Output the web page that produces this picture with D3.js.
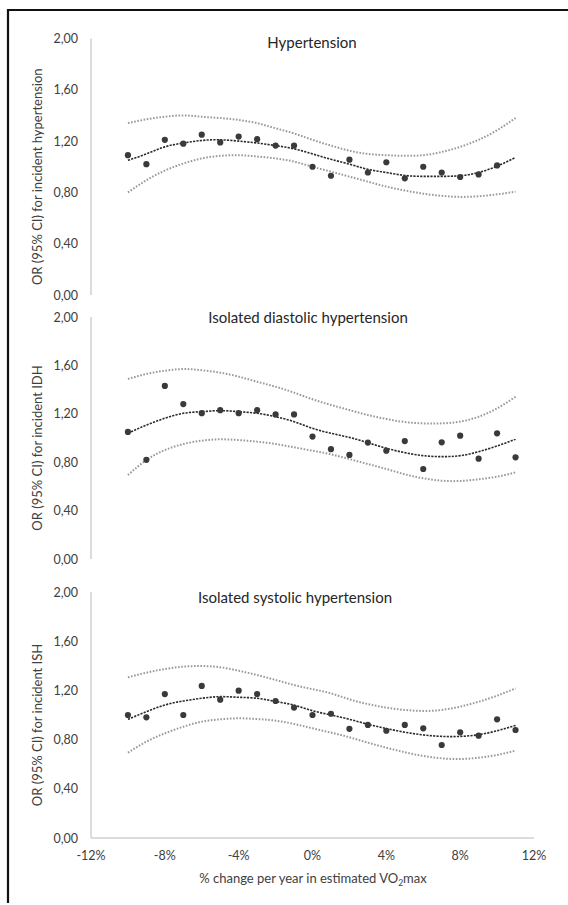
<!DOCTYPE html>
<html lang="en">
<head>
<meta charset="UTF-8">
<title>OR by change in VO2max</title>
<script src="https://cdnjs.cloudflare.com/ajax/libs/d3/7.8.5/d3.min.js"></script>
<style>
    body { margin: 0; background: #fff; }
    svg { display: block; font-family: Lato, "Open Sans", sans-serif; }
    .tick-label { font-size: 12.5px; fill: #404040; }
    .axis-title { font-size: 13px; fill: #404040; }
    .panel-title { font-size: 15px; fill: #262626; }
</style>
</head>
<body>
<svg id="svg" width="568" height="905"></svg>
<script>
// x positions (% change per year) shared by all panels
const xVals = [-10, -9, -8, -7, -6, -5, -4, -3, -2, -1, 0, 1, 2, 3, 4, 5, 6, 7, 8, 9, 10, 11];
const xTicks = [-12, -8, -4, 0, 4, 8, 12];
const yTicks = [0, 0.4, 0.8, 1.2, 1.6, 2.0];

const panelTitles = ["Hypertension", "Isolated diastolic hypertension", "Isolated systolic hypertension"];
const yTitles = ["OR (95% CI) for incident hypertension", "OR (95% CI) for incident IDH", "OR (95% CI) for incident ISH"];

// Hypertension
const htnOR = [1.09, 1.02, 1.21, 1.18, 1.25, 1.19, 1.235, 1.215, 1.165, 1.165, 1.00, 0.93, 1.055, 0.955, 1.035, 0.91, 1.00, 0.955, 0.92, 0.94, 1.01];
const htnFit = [1.05, 1.10, 1.155, 1.185, 1.205, 1.21, 1.20, 1.185, 1.165, 1.14, 1.10, 1.058, 1.02, 0.98, 0.955, 0.932, 0.925, 0.925, 0.93, 0.955, 1.005, 1.072];
const htnUpper = [1.34, 1.37, 1.39, 1.40, 1.39, 1.38, 1.365, 1.34, 1.30, 1.26, 1.21, 1.165, 1.125, 1.10, 1.09, 1.085, 1.09, 1.115, 1.155, 1.21, 1.285, 1.38];
const htnLower = [0.80, 0.895, 0.97, 1.025, 1.065, 1.085, 1.09, 1.08, 1.065, 1.04, 1.00, 0.962, 0.923, 0.884, 0.845, 0.815, 0.79, 0.773, 0.765, 0.77, 0.785, 0.805];

// Isolated diastolic hypertension
const idhOR = [1.05, 0.82, 1.43, 1.28, 1.205, 1.23, 1.205, 1.23, 1.195, 1.195, 1.012, 0.908, 0.86, 0.962, 0.895, 0.975, 0.744, 0.964, 1.019, 0.829, 1.039, 0.84];
const idhFit = [1.039, 1.107, 1.163, 1.204, 1.218, 1.226, 1.218, 1.204, 1.176, 1.135, 1.08, 1.039, 1.005, 0.961, 0.915, 0.879, 0.854, 0.846, 0.854, 0.887, 0.934, 0.99];
const idhUpper = [1.488, 1.529, 1.556, 1.57, 1.56, 1.54, 1.507, 1.465, 1.424, 1.375, 1.32, 1.273, 1.231, 1.19, 1.157, 1.132, 1.121, 1.121, 1.135, 1.176, 1.245, 1.341];
const idhLower = [0.694, 0.818, 0.90, 0.95, 0.978, 0.989, 0.983, 0.97, 0.95, 0.923, 0.895, 0.865, 0.826, 0.785, 0.744, 0.70, 0.667, 0.647, 0.645, 0.659, 0.68, 0.716];

// Isolated systolic hypertension
const ishOR = [1.0, 0.981, 1.17, 1.0, 1.236, 1.125, 1.198, 1.17, 1.114, 1.06, 1.0, 1.01, 0.888, 0.919, 0.872, 0.919, 0.892, 0.756, 0.859, 0.832, 0.965, 0.878];
const ishFit = [0.965, 1.027, 1.081, 1.114, 1.136, 1.149, 1.144, 1.136, 1.11, 1.08, 1.035, 1.0, 0.965, 0.925, 0.89, 0.86, 0.838, 0.826, 0.826, 0.84, 0.872, 0.915];
const ishUpper = [1.306, 1.344, 1.374, 1.393, 1.398, 1.388, 1.36, 1.325, 1.285, 1.244, 1.21, 1.176, 1.127, 1.089, 1.06, 1.041, 1.033, 1.041, 1.068, 1.108, 1.157, 1.217];
const ishLower = [0.694, 0.783, 0.851, 0.905, 0.946, 0.965, 0.973, 0.967, 0.954, 0.927, 0.892, 0.857, 0.819, 0.775, 0.734, 0.697, 0.667, 0.648, 0.642, 0.653, 0.675, 0.71];

const series = [
    { or: htnOR, fit: htnFit, upper: htnUpper, lower: htnLower },
    { or: idhOR, fit: idhFit, upper: idhUpper, lower: idhLower },
    { or: ishOR, fit: ishFit, upper: ishUpper, lower: ishLower }
];

// panel layout: pixel rows of y=0 and y=2, title placement
const layout = [
    { y0: 295, y2: 38.5, titleX: 312, titleY: 48 },
    { y0: 559, y2: 317, titleX: 308, titleY: 323 },
    { y0: 838, y2: 592, titleX: 295, titleY: 603 }
];

const svg = d3.select("#svg");
const x = d3.scaleLinear().domain([-12, 12]).range([91, 534]);
const fmt = v => d3.format(".2f")(v).replace(".", ",");

// frame (left + top edges)
svg.append("path")
    .attr("d", "M8,903 L8,10 L568,10")
    .attr("fill", "none")
    .attr("stroke", "#111")
    .attr("stroke-width", 2.2);

layout.forEach((L, i) => {
    const s = series[i];
    const y = d3.scaleLinear().domain([0, 2]).range([L.y0, L.y2]);
    const g = svg.append("g");

    // y axis line
    g.append("line")
        .attr("x1", x(-12)).attr("x2", x(-12))
        .attr("y1", y(2)).attr("y2", y(0))
        .attr("stroke", "#d0d0d0").attr("stroke-width", 1.5);

    g.selectAll(".tick-label")
        .data(yTicks)
        .enter().append("text")
        .attr("class", "tick-label")
        .attr("x", 78)
        .attr("y", d => y(d) + 4.5)
        .attr("text-anchor", "end")
        .text(fmt);

    g.append("text")
        .attr("class", "axis-title")
        .attr("transform", `translate(42,${(y(0) + y(2)) / 2 + 10}) rotate(-90)`)
        .attr("text-anchor", "middle")
        .text(yTitles[i]);

    g.append("text")
        .attr("class", "panel-title")
        .attr("x", L.titleX).attr("y", L.titleY)
        .attr("text-anchor", "middle")
        .text(panelTitles[i]);

    const line = arr => d3.line()
        .x((d, j) => x(xVals[j]))
        .y(d => y(d))
        .curve(d3.curveNatural)(arr);

    [s.upper, s.lower].forEach(arr => {
        g.append("path")
            .attr("d", line(arr))
            .attr("fill", "none")
            .attr("stroke", "#9a9a9a")
            .attr("stroke-width", 2)
            .attr("stroke-dasharray", "1.6,1.6");
    });

    g.append("path")
        .attr("d", line(s.fit))
        .attr("fill", "none")
        .attr("stroke", "#2a2a2a")
        .attr("stroke-width", 1.6)
        .attr("stroke-dasharray", "2.2,1.2");

    g.selectAll("circle")
        .data(s.or)
        .enter().append("circle")
        .attr("cx", (d, j) => x(xVals[j]))
        .attr("cy", d => y(d))
        .attr("r", 3.1)
        .attr("fill", "#3a3a3a");

    // x axis only on the last panel
    if (i === layout.length - 1) {
        g.append("line")
            .attr("x1", x(-12)).attr("x2", x(12))
            .attr("y1", y(0)).attr("y2", y(0))
            .attr("stroke", "#d0d0d0").attr("stroke-width", 1.5);

        g.selectAll(".xtick")
            .data(xTicks)
            .enter().append("text")
            .attr("class", "tick-label xtick")
            .attr("x", d => x(d))
            .attr("y", y(0) + 22)
            .attr("text-anchor", "middle")
            .text(d => d + "%");

        const t = g.append("text")
            .attr("class", "axis-title")
            .attr("x", 313).attr("y", y(0) + 45)
            .attr("text-anchor", "middle");
        t.append("tspan").text("% change per year in estimated VO");
        t.append("tspan").attr("font-size", "8.5px").attr("dy", 3).text("2");
        t.append("tspan").attr("dy", -3).text("max");
    }
});
</script>
</body>
</html>
